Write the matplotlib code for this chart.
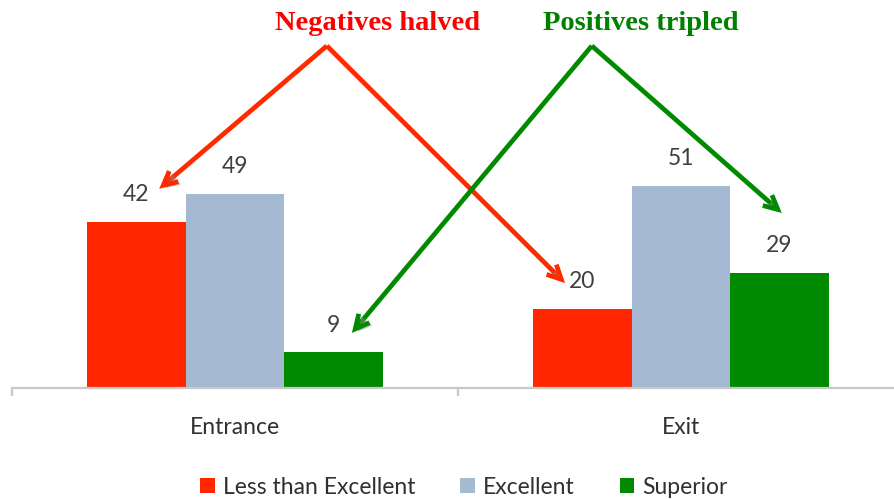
import numpy as np
import matplotlib
matplotlib.use("Agg")
import matplotlib.pyplot as plt
import matplotlib.patheffects as pe
from matplotlib.patches import Patch

# survey results
stages = ["Entrance", "Exit"]
series = ["Less than Excellent", "Excellent", "Superior"]
less_than_excellent = [42, 20]
excellent = [49, 51]
superior = [9, 29]

colors = ["#ff2600", "#a5b9d3", "#008a00"]
label_font = ["Lato", "DejaVu Sans"]
fs = 16.5

fig = plt.figure(figsize=(8.95, 4.99), dpi=100)
ax = fig.add_axes([12 / 895, 111 / 499, 892 / 895, 237.6 / 499])

x = np.arange(len(stages))
w = 0.221
values = [less_than_excellent, excellent, superior]
for i, (vals, c) in enumerate(zip(values, colors)):
    xs = x + (i - 1) * w
    ax.bar(xs, vals, width=w, color=c, linewidth=0)
    for xi, v in zip(xs, vals):
        ax.text(xi, v + 6.9, str(v), ha="center", va="center",
                fontsize=fs, color="#404040", family=label_font)

ax.set_xlim(-0.5, 1.5)
ax.set_ylim(0, 60)
ax.set_yticks([])
for s in ["top", "right", "left"]:
    ax.spines[s].set_visible(False)
ax.spines["bottom"].set_color("#c8c8c8")
ax.spines["bottom"].set_linewidth(1.6)
ax.set_xticks(x)
ax.set_xticklabels(stages, fontsize=fs, color="#303030", family=label_font)
ax.tick_params(axis="x", which="major", length=0, pad=21)
ax.set_xticks([-0.5, 0.5, 1.5], minor=True)
ax.tick_params(axis="x", which="minor", length=6, width=1.6, color="#c8c8c8")

# annotation arrows: (series index, stage index, tip offset dx, dy, apex)
shadow = [pe.withSimplePatchShadow(offset=(2, -2), shadow_rgbFace="#888888", alpha=0.5)]
arrow_specs = [
    (0, 0, 0.051, 8.3, (0.206, 86.4), "#ff2a00"),
    (0, 1, -0.039, 6.5, (0.206, 86.4), "#ff2a00"),
    (2, 0, 0.041, 4.9, (0.800, 86.4), "#008a00"),
    (2, 1, 0.005, 15.2, (0.800, 86.4), "#008a00"),
]
for si, gi, dx, dy, apex, c in arrow_specs:
    bx = x[gi] + (si - 1) * w
    tip = (bx + dx, values[si][gi] + dy)
    ax.annotate("", xy=tip, xytext=apex, xycoords="data", textcoords="data",
                annotation_clip=False,
                arrowprops=dict(arrowstyle="->,head_length=1.0,head_width=0.5",
                                color=c, lw=3.4, shrinkA=0, shrinkB=0,
                                joinstyle="miter", capstyle="butt",
                                path_effects=shadow))

fig.text(377.5 / 895, 1 - 24 / 499, "Negatives halved", ha="center", va="center",
         color="#ff0000", fontsize=20.5, fontweight="bold", family="Liberation Serif")
fig.text(640.5 / 895, 1 - 24 / 499, "Positives tripled", ha="center", va="center",
         color="#008000", fontsize=20.5, fontweight="bold", family="Liberation Serif")

handles = [Patch(facecolor=c, edgecolor="none") for c in colors]
fig.legend(handles, series, loc="center", bbox_to_anchor=(464 / 895, 1 - 487 / 499),
           ncol=3, frameon=False, handlelength=0.65, handleheight=0.65,
           handletextpad=0.35, columnspacing=1.95,
           prop={"family": label_font, "size": fs}, labelcolor="#303030")

fig.savefig("out.png", dpi=100)
